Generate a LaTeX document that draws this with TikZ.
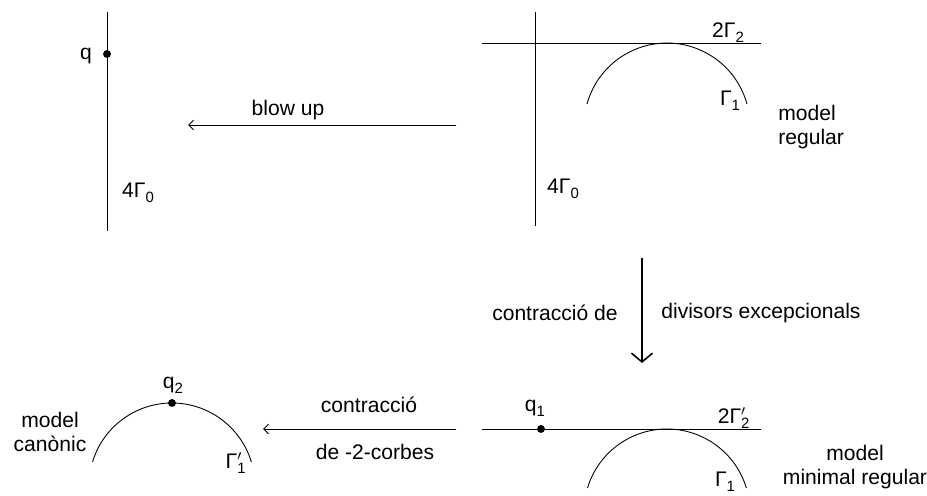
\documentclass[tikz,border=0pt]{standalone}
\usepackage{fontspec}
\setmainfont{Liberation Sans}
\usetikzlibrary{arrows.meta}

\newcommand{\lowsub}[1]{\raisebox{-2.8pt}{\fontsize{8.5}{8.5}\selectfont #1}}
\newcommand{\Gam}[1]{Γ\lowsub{#1}}
\newcommand{\Gamp}[1]{Γ\rlap{\lowsub{#1}}$'$}

\tikzset{
  curve/.style={line width=0.5pt},
  lbl/.style={font=\fontsize{12}{14}\selectfont,inner sep=0pt},
  map/.style={line width=0.5pt,-{Straight Barb[length=2.8pt,width=5.5pt]}},
  bigmap/.style={line width=0.9pt,-{Straight Barb[length=5pt,width=12pt]}},
  pt/.style={fill,circle,inner sep=0pt,minimum size=4.5pt}
}

\begin{document}
\begin{tikzpicture}[x=0.02cm,y=0.02cm]
  \useasboundingbox (0,0) rectangle (927,496);

  % ---- Top left: the fibre 4G0 with the point q -----------------
  \draw[curve] (107,265) -- (107,484);
  \node[pt] (q) at (107,442) {};
  \node[lbl] (q-lbl) at (86,440) {q};
  \node[lbl] (g0-a) at (138,303) {4\Gam{0}};

  % ---- Top right: regular model ---------------------------------
  \draw[curve] (535,270) -- (535,484);
  \draw[curve] (482,453) -- (761,453);
  \draw[curve] (587,392) arc[start angle=164.6,end angle=15.4,radius=1.66cm];
  \node[lbl] (g2-a) at (728,463) {2\Gam{2}};
  \node[lbl] (g1-a) at (730,395) {\Gam{1}};
  \node[lbl] (g0-b) at (563,307) {4\Gam{0}};
  \node[lbl,align=left,anchor=west] (reg) at (778,369) {model\\regular};

  % blow up
  \coordinate (bu-from) at (456,371);
  \coordinate (bu-to) at (188,371);
  \draw[map] (bu-from) -- (bu-to);
  \node[lbl] (bu-lbl) at (288,386) {blow up};

  % contraction of exceptional divisors
  \coordinate (ce-from) at (642,238);
  \coordinate (ce-to) at (642,133);
  \draw[bigmap] (ce-from) -- (ce-to);
  \node[lbl,anchor=east] (ce-lbl-a) at (618,183) {contracció de};
  \node[lbl,anchor=west] (ce-lbl-b) at (661,183) {divisors excepcionals};

  % ---- Bottom right: minimal regular model ----------------------
  \draw[curve] (482,67) -- (761,67);
  \draw[curve] (587.5,8) arc[start angle=163.2,end angle=16.8,radius=1.66cm];
  \node[pt] (q1) at (541,67) {};
  \node[lbl] (q1-lbl) at (535,88) {q\lowsub{1}};
  \node[lbl] (g2-b) at (732,78) {2\Gamp{2}};
  \node[lbl] (g1-b) at (725,14) {\Gam{1}};
  \node[lbl,align=center] (minreg) at (855,29) {model\\minimal regular};

  % contraction of -2-curves
  \coordinate (cc-from) at (456,67);
  \coordinate (cc-to) at (263,67);
  \draw[map] (cc-from) -- (cc-to);
  \node[lbl] (cc-lbl-a) at (369,91) {contracció};
  \node[lbl] (cc-lbl-b) at (375,44) {de -2-corbes};

  % ---- Bottom left: canonical model -----------------------------
  \draw[curve] (92.5,34) arc[start angle=163.2,end angle=16.8,radius=1.66cm];
  \node[pt] (q2) at (172,93) {};
  \node[lbl] (q2-lbl) at (173,111) {q\lowsub{2}};
  \node[lbl] (g1-c) at (234,33) {\Gamp{1}};
  \node[lbl,align=center] (can) at (50,64) {model\\canònic};

\end{tikzpicture}
\end{document}
